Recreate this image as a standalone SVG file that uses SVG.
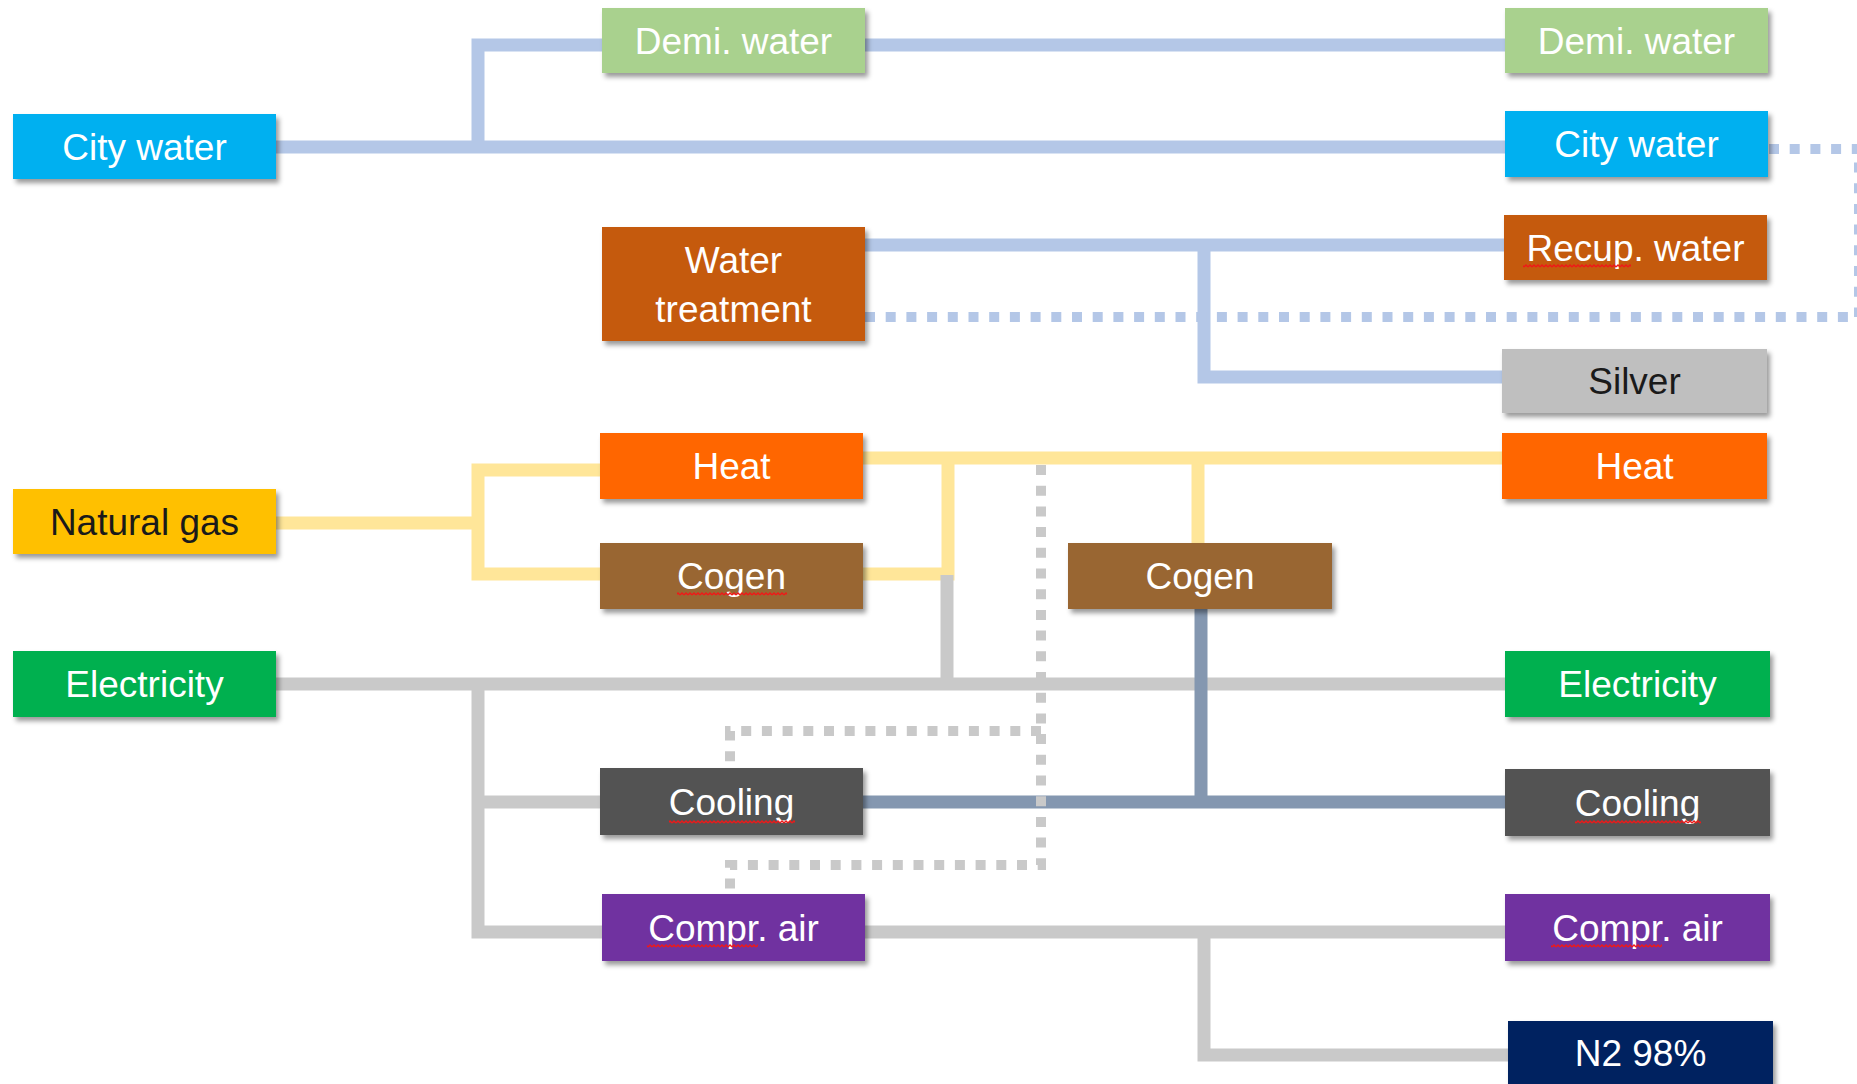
<svg xmlns="http://www.w3.org/2000/svg" width="1857" height="1084" viewBox="0 0 1857 1084">
  <defs>
    <filter id="shadow" x="-10%" y="-20%" width="130%" height="160%">
      <feDropShadow dx="3" dy="4" stdDeviation="2.5" flood-color="#000" flood-opacity="0.4"/>
    </filter>
    <pattern id="squiggle" width="4" height="4" patternUnits="userSpaceOnUse">
      <path d="M0,3 L2,1 L4,3" fill="none" stroke="#F01818" stroke-width="1.4"/>
    </pattern>
  </defs>
  <style>
    .pipe { fill: none; stroke-width: 13; stroke-linejoin: miter; stroke-linecap: butt; }
    .water { stroke: #B4C7E7; }
    .gas { stroke: #FFE699; }
    .power { stroke: #C9C9C9; }
    .chill { stroke: #8497B0; }
    .dotted { fill: none; stroke-width: 10; stroke-dasharray: 10 10.7; }
    .box { filter: url(#shadow); }
    .label { font-family: "Liberation Sans", Arial, sans-serif; font-size: 37px; fill: #FFFFFF; text-anchor: middle; }
    .dark { fill: #1A1A1A; }
    .spell { fill: url(#squiggle); }
  </style>
  <rect width="1857" height="1084" fill="#FFFFFF"/>

  <g id="connectors">
    <!-- water network -->
    <path class="pipe water" d="M276,147 H1505"/>
    <path class="pipe water" d="M478,147 V45 H602"/>
    <path class="pipe water" d="M865,45 H1505"/>
    <path class="pipe water" d="M865,245 H1504"/>
    <path class="pipe water" d="M1204,245 V377 H1502"/>
    <!-- gas / heat network -->
    <path class="pipe gas" d="M276,523 H478"/>
    <path class="pipe gas" d="M600,470 H478 V574 H600"/>
    <path class="pipe gas" d="M863,458 H1502"/>
    <path class="pipe gas" d="M863,574 H948 V458"/>
    <path class="pipe gas" d="M1198,458 V543"/>
    <!-- electricity / compressed air network -->
    <path class="pipe power" d="M947,575 V684"/>
    <path class="pipe power" d="M276,684 H1505"/>
    <path class="pipe power" d="M478,684 V932 H602"/>
    <path class="pipe power" d="M478,802 H600"/>
    <path class="pipe power" d="M865,932 H1505"/>
    <path class="pipe power" d="M1204,932 V1055 H1508"/>
    <!-- cooling network -->
    <path class="pipe chill" d="M863,802 H1505"/>
    <path class="pipe chill" d="M1201,609 V802"/>
    <!-- dotted return lines -->
    <path class="dotted" stroke="#B4C7E7" d="M865,317 H1859 V149 H1768"/>
    <path class="dotted" stroke="#C9C9C9" d="M1041,465 V865 H730 V894"/>
    <path class="dotted" stroke="#C9C9C9" d="M1041,731 H730 V768"/>
  </g>

  <g id="demi-water-in">
    <rect class="box" x="602" y="8" width="263" height="65" fill="#A9D18E"/>
    <text class="label" x="733.5" y="53.5">Demi. water</text>
  </g>
  <g id="demi-water-out">
    <rect class="box" x="1505" y="8" width="263" height="65" fill="#A9D18E"/>
    <text class="label" x="1636.5" y="53.5">Demi. water</text>
  </g>
  <g id="city-water-in">
    <rect class="box" x="13" y="114" width="263" height="65" fill="#00B0F0"/>
    <text class="label" x="144.5" y="159.5">City water</text>
  </g>
  <g id="city-water-out">
    <rect class="box" x="1505" y="111" width="263" height="66" fill="#00B0F0"/>
    <text class="label" x="1636.5" y="157">City water</text>
  </g>
  <g id="water-treatment">
    <rect class="box" x="602" y="227" width="263" height="114" fill="#C55A11"/>
    <text class="label" x="733.5" y="273">Water</text>
    <text class="label" x="733.5" y="322">treatment</text>
  </g>
  <g id="recup-water">
    <rect class="box" x="1504" y="215" width="263" height="65" fill="#C55A11"/>
    <text class="label" x="1635.5" y="261">Recup. water</text>
    <rect class="spell" x="1523" y="264" width="108" height="4"/>
  </g>
  <g id="silver">
    <rect class="box" x="1502" y="349" width="265" height="64" fill="#BFBFBF"/>
    <text class="label dark" x="1634.5" y="394">Silver</text>
  </g>
  <g id="heat-in">
    <rect class="box" x="600" y="433" width="263" height="66" fill="#FF6600"/>
    <text class="label" x="731.5" y="479">Heat</text>
  </g>
  <g id="heat-out">
    <rect class="box" x="1502" y="433" width="265" height="66" fill="#FF6600"/>
    <text class="label" x="1634.5" y="479">Heat</text>
  </g>
  <g id="natural-gas">
    <rect class="box" x="13" y="489" width="263" height="65" fill="#FFC000"/>
    <text class="label dark" x="144.5" y="534.5">Natural gas</text>
  </g>
  <g id="cogen-in">
    <rect class="box" x="600" y="543" width="263" height="66" fill="#996633"/>
    <text class="label" x="731.5" y="589">Cogen</text>
    <rect class="spell" x="677" y="592" width="110" height="4"/>
  </g>
  <g id="cogen-plant">
    <rect class="box" x="1068" y="543" width="264" height="66" fill="#996633"/>
    <text class="label" x="1200" y="589">Cogen</text>
  </g>
  <g id="electricity-in">
    <rect class="box" x="13" y="651" width="263" height="66" fill="#00B050"/>
    <text class="label" x="144.5" y="697">Electricity</text>
  </g>
  <g id="electricity-out">
    <rect class="box" x="1505" y="651" width="265" height="66" fill="#00B050"/>
    <text class="label" x="1637.5" y="697">Electricity</text>
  </g>
  <g id="cooling-in">
    <rect class="box" x="600" y="768" width="263" height="67" fill="#525252"/>
    <text class="label" x="731.5" y="814.5">Cooling</text>
    <rect class="spell" x="669" y="820" width="126" height="4"/>
  </g>
  <g id="cooling-out">
    <rect class="box" x="1505" y="769" width="265" height="67" fill="#525252"/>
    <text class="label" x="1637.5" y="815.5">Cooling</text>
    <rect class="spell" x="1575" y="820" width="126" height="4"/>
  </g>
  <g id="compr-air-in">
    <rect class="box" x="602" y="894" width="263" height="67" fill="#7030A0"/>
    <text class="label" x="733.5" y="940.5">Compr. air</text>
    <rect class="spell" x="647" y="944" width="111" height="4"/>
  </g>
  <g id="compr-air-out">
    <rect class="box" x="1505" y="894" width="265" height="67" fill="#7030A0"/>
    <text class="label" x="1637.5" y="940.5">Compr. air</text>
    <rect class="spell" x="1551" y="944" width="111" height="4"/>
  </g>
  <g id="n2">
    <rect class="box" x="1508" y="1021" width="265" height="66" fill="#002060"/>
    <text class="label" x="1640.5" y="1066">N2 98%</text>
  </g>
</svg>
